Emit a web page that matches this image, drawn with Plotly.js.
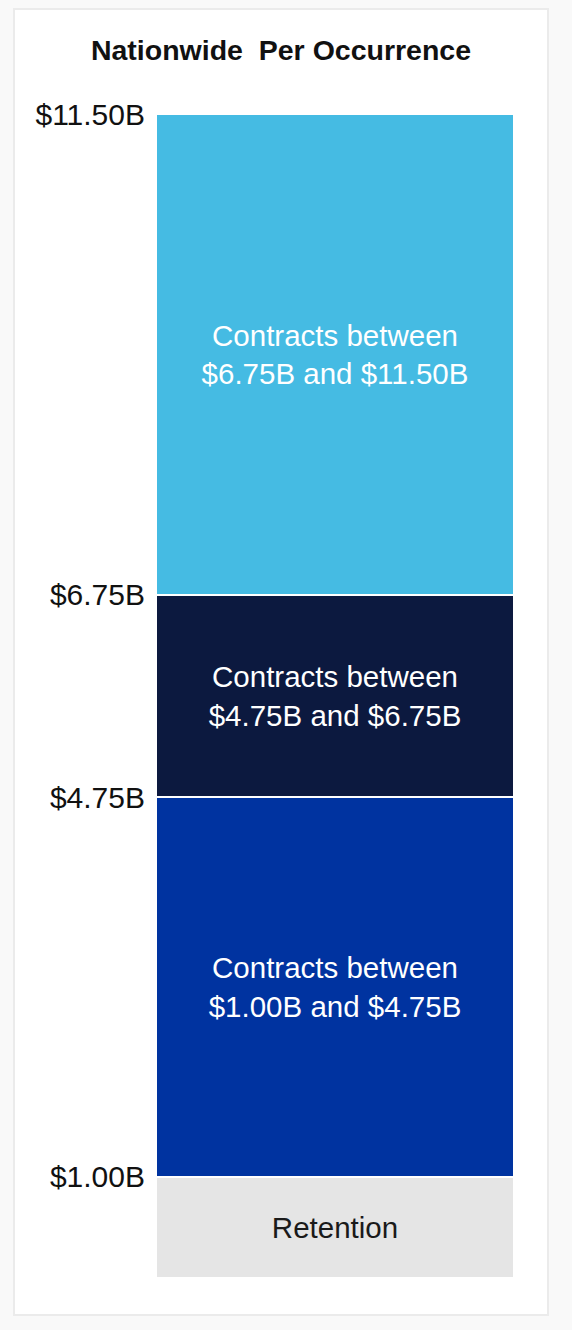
<!DOCTYPE html>
<html>
<head>
<meta charset="utf-8">
<script src="https://cdn.plot.ly/plotly-3.0.1.min.js"></script>
<style>
  html, body { margin: 0; padding: 0; background: #f9f9f9; }
  #card {
    position: absolute; left: 15px; top: 10px;
    width: 532px; height: 1304px;
    background: #ffffff;
    box-shadow: 0 0 0 2px #ebebeb;
  }
</style>
</head>
<body>
<div id="card"></div>
<script>
// layers from the bottom up, in $B
var layerNames = ["Retention", "Layer 1", "Layer 2", "Layer 3"];
var layerSizes = [1.00, 3.75, 2.00, 4.75];
var layerLabels = [
  "Retention",
  "Contracts between<br>$1.00B and $4.75B",
  "Contracts between<br>$4.75B and $6.75B",
  "Contracts between<br>$6.75B and $11.50B"
];
var layerColors = ["#e5e5e5", "#0033a0", "#0c193f", "#45bbe3"];
var labelColors = ["#1a1a1a", "#ffffff", "#ffffff", "#ffffff"];
var category = ["Nationwide Per Occurrence"];

// ticks sit at the top of each layer
var tickVals = [];
var running = 0;
for (var i = 0; i < layerSizes.length; i++) {
  running += layerSizes[i];
  tickVals.push(running);
}
var tickText = tickVals.map(function (v) { return "$" + v.toFixed(2) + "B"; });

var font = "Liberation Sans, Arial, sans-serif";

var data = layerSizes.map(function (size, i) {
  return {
    type: "bar",
    name: layerNames[i],
    x: category,
    y: [size],
    text: [layerLabels[i]],
    textposition: "inside",
    insidetextanchor: "middle",
    textangle: 0,
    constraintext: "none",
    textfont: { family: font, size: 29.5, color: labelColors[i] },
    marker: { color: layerColors[i], line: { color: "#ffffff", width: 2 } },
    hoverinfo: "skip"
  };
});

var layout = {
  width: 532, height: 1304,
  margin: { t: 104, r: 33, l: 141, b: 36 },
  paper_bgcolor: "rgba(0,0,0,0)",
  plot_bgcolor: "rgba(0,0,0,0)",
  barmode: "stack",
  bargap: 0,
  showlegend: false,
  title: {
    text: "<b>Nationwide  Per Occurrence</b>",
    font: { family: font, size: 28.5, color: "#111111" },
    xref: "container", x: 0.5, xanchor: "center",
    yref: "container", y: 1 - 40 / 1304, yanchor: "middle"
  },
  xaxis: { visible: false, range: [-0.5, 0.5] },
  yaxis: {
    range: [0, 11.5],
    tickvals: tickVals.slice(0),
    ticktext: tickText,
    ticks: "",
    ticklabelstandoff: 10,
    showgrid: false, zeroline: false, showline: false,
    tickfont: { family: font, size: 30, color: "#111111" },
    fixedrange: true
  }
};

Plotly.newPlot("card", data, layout, { displayModeBar: false, staticPlot: true });
</script>
</body>
</html>
